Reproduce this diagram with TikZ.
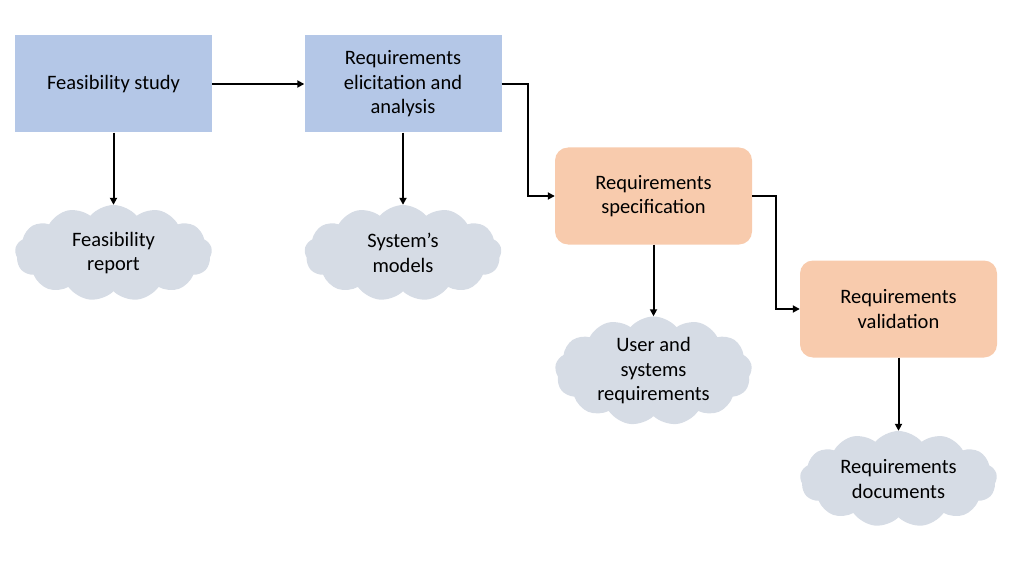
\documentclass[tikz,border=0pt]{standalone}
\usepackage{fontspec}
\setmainfont{Carlito}
\usetikzlibrary{shapes.symbols,arrows.meta}
\definecolor{bluebox}{HTML}{B4C7E7}
\definecolor{orangebox}{HTML}{F8CBAD}
\definecolor{cloudfill}{HTML}{D6DCE5}
\tikzset{
  txt/.style={align=center,font=\fontsize{20.5}{24.5}\selectfont,text=black},
  bluestep/.style={txt,fill=bluebox,minimum width=197pt,minimum height=97pt,inner sep=0pt},
  orangestep/.style={txt,fill=orangebox,rounded corners=13pt,minimum width=197pt,minimum height=97pt,inner sep=0pt},
  cloudnode/.style={txt,cloud,cloud puffs=13,cloud puff arc=100,cloud ignores aspect,fill=cloudfill,minimum width=197pt,minimum height=96pt,inner sep=0pt},
  conn/.style={line width=2pt,-{Triangle[length=7pt,width=7pt]}}
}
\begin{document}
\begin{tikzpicture}[x=1pt,y=-1pt]
\useasboundingbox (0,0) rectangle (1024,572);
\node[bluestep] (fs) at (113.5,84) {Feasibility study};
\node[bluestep] (rea) at (403,84) {Requirements\\elicitation and\\analysis};
\node[orangestep] (rs) at (653.5,196) {Requirements\\specification};
\node[orangestep] (rv) at (898.5,309) {Requirements\\validation};
\node[cloudnode] (c1) at (113.5,253) {Feasibility\\report};
\node[cloudnode] (c2) at (403,253) {System’s\\models};
\node[cloudnode] (c3) at (653.5,371) {User and\\systems\\requirements};
\node[cloudnode] (c4) at (898.5,479) {Requirements\\documents};
\draw[conn] (fs.east) -- (rea.west);
\draw[conn] (rea.east) -- ++(26,0) |- (rs.west);
\draw[conn] (rs.east) -- ++(24,0) |- (rv.west);
\draw[conn] (fs.south) -- (c1.north);
\draw[conn] (rea.south) -- (c2.north);
\draw[conn] (rs.south) -- (c3.north);
\draw[conn] (rv.south) -- (c4.north);
\end{tikzpicture}
\end{document}
